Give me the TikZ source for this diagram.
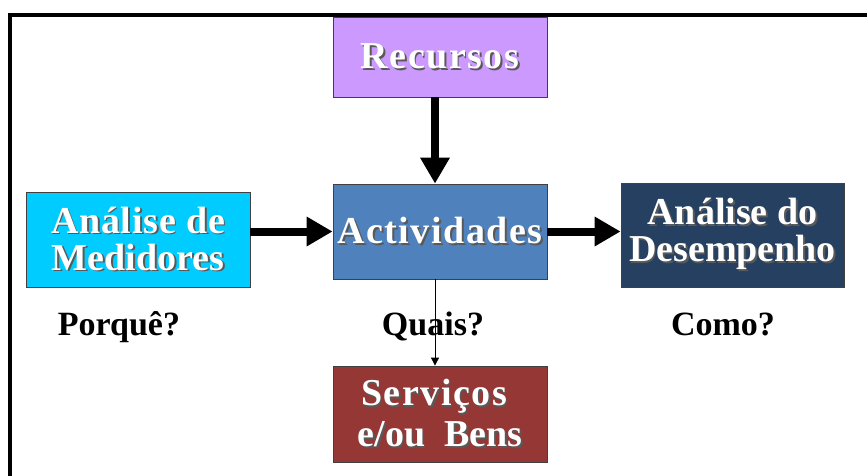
\documentclass[tikz,border=0pt]{standalone}
\usepackage{fontspec}
\setmainfont{Liberation Serif}
\newfontfamily\spfont{Liberation Serif}[LetterSpace=4]
\newfontfamily\spsfont{Liberation Serif}[LetterSpace=2]
\usetikzlibrary{arrows.meta}
\definecolor{recc}{HTML}{CC99FF}
\definecolor{actc}{HTML}{4F81BD}
\definecolor{medc}{HTML}{00CCFF}
\definecolor{desc}{HTML}{254061}
\definecolor{serc}{HTML}{953735}
\newcommand\shtxt[1]{\leavevmode\rlap{\kern1.8pt\raisebox{-1.8pt}{\color{black!65}#1}}#1}
\tikzset{
  box/.style={draw=black!75, line width=0.8pt, inner sep=0pt, text=white,
    font=\bfseries\fontsize{38}{37}\selectfont, align=center},
  bigarrow/.style={line width=8pt, -{Triangle[width=28pt,length=26pt]}},
  thinarrow/.style={line width=0.8pt, -{Triangle[width=8pt,length=8pt]}},
  lbl/.style={font=\bfseries\fontsize{34}{36}\selectfont, anchor=base, inner sep=0pt}
}
\begin{document}
\begin{tikzpicture}[x=1pt,y=-1pt]
\useasboundingbox (0,0) rectangle (867,475);
\draw[line width=4pt] (9.5,477) -- (9.5,14.5) -- (869,14.5);
\node[box, fill=recc, minimum width=214, minimum height=80] (rec) at (440,57) {\spfont\shtxt{Recursos}};
\node[box, fill=actc, minimum width=214, minimum height=95] (act) at (440,231.5) {\spfont\shtxt{Actividades}};
\node[box, fill=medc, minimum width=224, minimum height=95] (med) at (138,239.5) {\spsfont\shtxt{Análise de}\\\shtxt{Medidores}};
\node[box, fill=desc, minimum width=223, minimum height=104] (des) at (732.5,235) {\shtxt{Análise do}\\\shtxt{Desempenho}};
\node[box, fill=serc, minimum width=214, minimum height=96, font=\bfseries\fontsize{38}{41}\selectfont] (ser) at (440,414) {\spfont\shtxt{Serviços}\hspace*{12pt}\\\shtxt{e/ou~ Bens}};
\node[lbl] (pq) at (119,335) {Porquê?};
\node[lbl] (qu) at (433,335) {Quais?};
\node[lbl] (co) at (723,335) {Como?};
\draw[bigarrow] ([xshift=-5pt]rec.south) -- ([xshift=-5pt]act.north);
\draw[bigarrow] (med.east |- act.west) -- (act.west);
\draw[bigarrow] (act.east) -- (des.west |- act.east);
\draw[thinarrow] ([xshift=-5pt]act.south) -- ([xshift=-5pt]ser.north);
\end{tikzpicture}
\end{document}
